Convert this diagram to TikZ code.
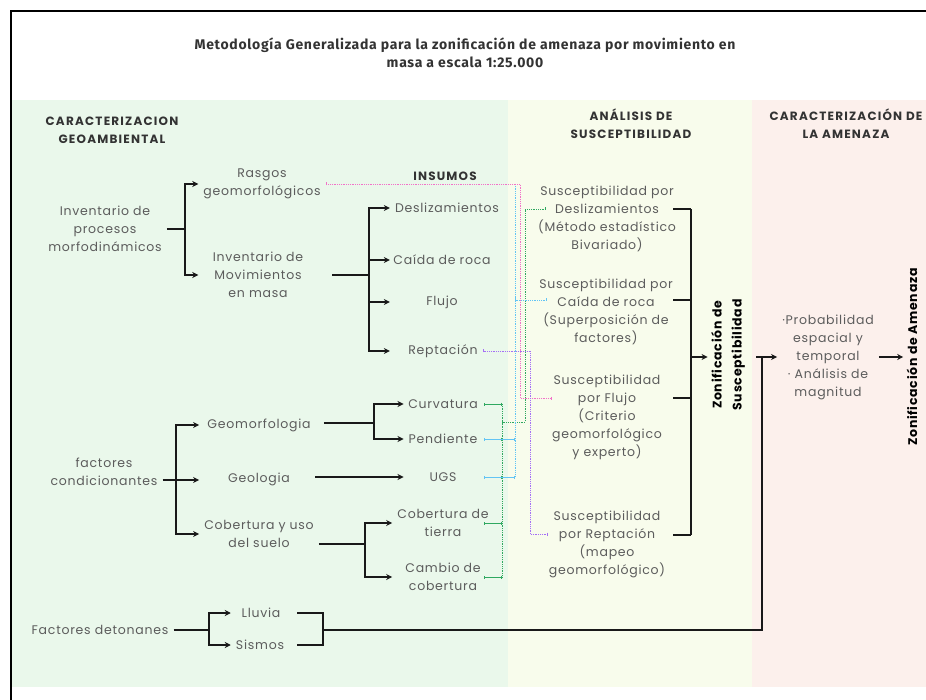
\documentclass[tikz,border=0pt]{standalone}
\usepackage{fontspec}
\setmainfont{Poppins}
\newfontfamily\bodyfont[LetterSpace=6]{Poppins}
\newfontfamily\headfont[LetterSpace=10]{Poppins}
\newfontfamily\titlefont[LetterSpace=5]{Fira Sans}
\usetikzlibrary{arrows.meta,positioning}

\definecolor{bandgreen}{HTML}{EAF8EB}
\definecolor{bandyellow}{HTML}{F8FCEC}
\definecolor{bandpink}{HTML}{FCF0EC}
\definecolor{txtgrey}{HTML}{5C5C5C}
\definecolor{headgrey}{HTML}{333333}
\definecolor{linkpink}{HTML}{F272C8}
\definecolor{linkblue}{HTML}{62C4F4}
\definecolor{linkgreen}{HTML}{2FA860}
\definecolor{linkviolet}{HTML}{A570F5}

\begin{document}
\begin{tikzpicture}[x=1pt, y=-1pt,
    item/.style={align=center, text=txtgrey, inner xsep=5pt, inner ysep=1pt,
      font=\bodyfont\fontsize{12.5}{18}\selectfont},
    head/.style={align=center, text=headgrey, font=\headfont\bfseries\fontsize{12}{18}\selectfont},
    vhead/.style={head, rotate=90, text=black, font=\bodyfont\bfseries\fontsize{12.5}{20}\selectfont},
    tree/.style={line width=1.4pt, black!90},
    treearr/.style={tree, -{Stealth[length=6pt, width=6pt]}},
    link/.style={line width=0.8pt, densely dotted},
    port/.style={line width=0.8pt, {Bar[width=3pt]}-{Bar[width=3pt]}},
  ]
\useasboundingbox (0,0) rectangle (926,700);

% Background bands and frame
\fill[bandgreen]  (12,100) rectangle (508,687);
\fill[bandyellow] (508,100) rectangle (752,687);
\fill[bandpink]   (752,100) rectangle (926,687);
\draw[line width=2pt] (926,11) -- (11,11) -- (11,700);

% Title and column headings
\node[align=center, text=headgrey, font=\titlefont\bfseries\fontsize{14}{18}\selectfont] (title) at (465,53)
  {Metodología Generalizada para la zonificación de amenaza por movimiento en\\masa a escala 1:25.000};
\node[head] (hgeo) at (112,130) {CARACTERIZACION\\GEOAMBIENTAL};
\node[head] (hsus) at (631,124) {ANÁLISIS DE\\SUSCEPTIBILIDAD};
\node[head] (hame) at (846,124) {CARACTERIZACIÓN DE\\LA AMENAZA};
\node[head] (hins) at (445,176) {INSUMOS};

% Inventario de procesos morfodinamicos
\node[item] (inv)    at (105,229) {Inventario de\\procesos\\morfodinámicos};
\node[item] (rasgos) at (262,184) {Rasgos\\geomorfológicos};
\node[item] (invmm)  at (258,275) {Inventario de\\Movimientos\\en masa};
\node[item] (desl)   at (447,208) {Deslizamientos};
\node[item] (caida)  at (442,260) {Caída de roca};
\node[item] (flujo)  at (442,302) {Flujo};
\node[item] (rept)   at (443,351) {Reptación};

\coordinate (j1) at (185,229);
\draw[tree] (inv.east) -- (j1);
\draw[treearr] (j1) |- (rasgos.west);
\draw[treearr] (j1) |- (invmm.west -| rasgos.west);

\coordinate (j2) at (369,275);
\draw[tree] ([xshift=24pt]invmm.east) -- (j2);
\foreach \n in {desl,caida,flujo,rept}
  \draw[treearr] (j2) |- (\n.west -| desl.west);

% Factores condicionantes
\node[item] (fcond) at (104,472) {factores\\condicionantes};
\node[item] (geomf) at (259,425) {Geomorfologia};
\node[item] (geol)  at (259,479) {Geologia};
\node[item] (cob)   at (259,534) {Cobertura y uso\\del suelo};
\node[item] (curv)  at (443,404) {Curvatura};
\node[item] (pend)  at (443,439) {Pendiente};
\node[item] (ugs)   at (443,477) {UGS};
\node[item] (cobt)  at (443,523) {Cobertura de\\tierra};
\node[item] (camb)  at (443,577) {Cambio de\\cobertura};

\coordinate (c1) at (176,480);
\draw[treearr] (fcond.east |- c1) -- (c1 -| cob.west);
\draw[treearr] (c1) |- (geomf.west -| cob.west);
\draw[treearr] (c1) |- (cob.west);

\coordinate (d1) at (374,423);
\draw[tree] ([xshift=8pt]geomf.east |- d1) -- (d1);
\draw[treearr] (d1) |- (curv.west -| pend.west);
\draw[treearr] (d1) |- (pend.west);
\draw[treearr] ([xshift=20pt]geol.east |- ugs.west) -- (ugs.west -| pend.west);

\coordinate (e1) at (365,544);
\draw[tree] (cob.east |- e1) -- (e1);
\draw[treearr] (e1) |- (cobt.west);
\draw[treearr] (e1) |- (camb.west -| cobt.west);

% Factores detonantes
\node[item] (fdet) at (100,630) {Factores detonanes};
\node[item] (lluv) at (261,613) {Lluvia};
\node[item] (sism) at (260,645) {Sismos};

\coordinate (f1) at (209,630);
\draw[tree] (fdet.east) -- (f1);
\draw[treearr] (f1) |- (lluv.west -| sism.west);
\draw[treearr] (f1) |- (sism.west);
\coordinate (r3) at (323,630);
\draw[tree] ([xshift=8pt]sism.east |- lluv.east) -| (r3) |- ([xshift=8pt]sism.east);
\coordinate (zup) at (762,357);
\draw[tree] (r3) -| (zup);

% Susceptibilidad
\node[item] (sdesl)  at (607,219) {Susceptibilidad por\\Deslizamientos\\(Método estadístico\\Bivariado)};
\node[item] (scaida) at (606,312) {Susceptibilidad por\\Caída de roca\\(Superposición de\\factores)};
\node[item] (sflujo) at (607,417) {Susceptibilidad\\por Flujo\\(Criterio\\geomorfológico\\y experto)};
\node[item] (srept)  at (607,544) {Susceptibilidad\\por Reptación\\(mapeo\\geomorfológico)};

\coordinate (sdesl-out)  at (673,209);
\coordinate (scaida-out) at (673,300);
\coordinate (sflujo-out) at (673,398);
\coordinate (srept-out)  at (673,535);
\coordinate (sbar) at (691,357);
\foreach \n in {sdesl,scaida,sflujo,srept}
  \draw[tree] (\n-out) -- (\n-out -| sbar);
\draw[tree] (sdesl-out -| sbar) -- (srept-out -| sbar);

% Amenaza
\node[vhead] (zsus) at (728,355) {Zonificación de\\Susceptibilidad};
\node[item] (prob) at (828,357) {·Probabilidad\\espacial y\\temporal\\· Análisis de\\magnitud};
\node[vhead] (zame) at (912,357) {Zonificación de Amenaza};

\draw[treearr] (sbar) -- (zsus.north |- sbar);
\draw[treearr] ([xshift=8pt]zsus.south |- zup) -- (prob.west |- zup);
\draw[treearr] (prob.east |- zup) -- (zame.north |- zup);

% Insumos links
\coordinate (lport) at (484,0);
\coordinate (rg)  at (502,0);
\coordinate (rb)  at (515,0);
\coordinate (rp)  at (520,0);
\coordinate (rg2) at (525,0);
\coordinate (rv)  at (530,0);
\coordinate (gj)  at (502,422);
\coordinate (sdesl-in)  at (546,209);
\coordinate (scaida-in) at (547,300);
\coordinate (sflujo-in) at (552,398);
\coordinate (srept-in)  at (548,534);

\foreach \n in {curv,pend,ugs,cobt,camb}
  \draw[port, linkgreen] (\n.east -| lport) -- (\n.east -| rg);
\draw[link, linkgreen] (curv.east -| rg) -- (camb.east -| rg);
\draw[link, port, linkgreen] (gj) -- (gj -| rg2) -- (sdesl-in -| rg2) -- (sdesl-in);

\draw[link, linkblue] (rasgos.east -| rb) -- (ugs.east -| rb);
\draw[port, linkblue] (pend.east -| lport) -- (pend.east -| rb);
\draw[port, linkblue] (ugs.east -| lport) -- (ugs.east -| rb);
\draw[link, port, linkblue] (scaida-in -| rb) -- (scaida-in);

\draw[link, port, linkpink] (rasgos.east) -- (rasgos.east -| rp) -- (sflujo-in -| rp) -- (sflujo-in);

\draw[link, port, linkviolet] (rept.east) -- (rept.east -| rv) -- (srept-in -| rv) -- (srept-in);

\end{tikzpicture}
\end{document}
